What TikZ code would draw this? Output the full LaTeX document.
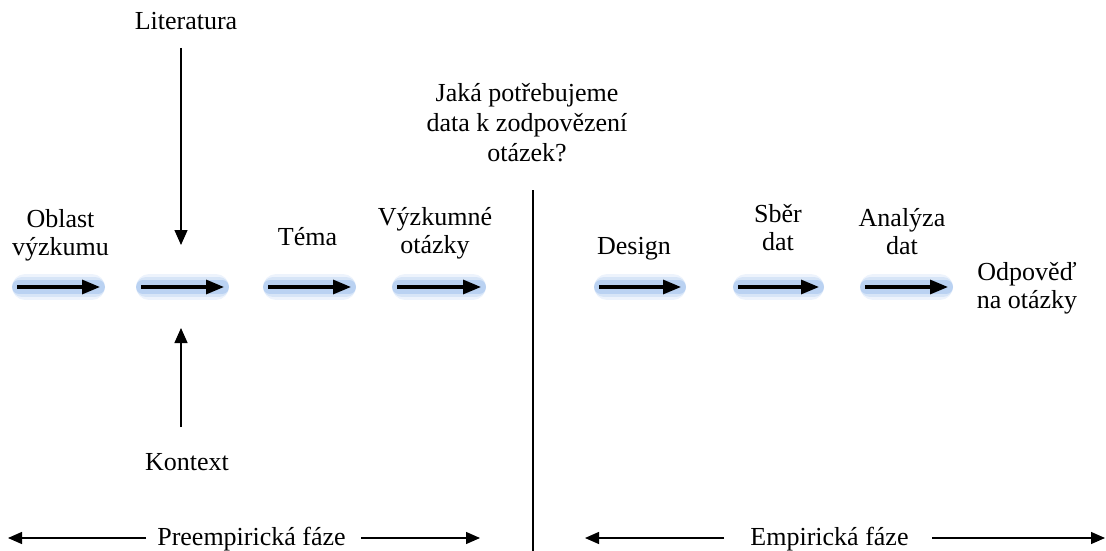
\documentclass[tikz,border=0pt]{standalone}
\usepackage{fontspec}
\setmainfont{Liberation Serif}
\usetikzlibrary{arrows.meta}
\definecolor{glowblue}{RGB}{110,160,228}
\begin{document}
\begin{tikzpicture}[x=1pt,y=-1pt,
  lbl/.style={align=center,inner sep=0pt,anchor=base,font=\fontsize{26}{28}\selectfont},
  qlbl/.style={align=center,inner sep=0pt,anchor=base,font=\fontsize{26}{30}\selectfont},
  flow/.style={line width=3.2pt,-{Triangle[length=18pt,width=14pt]}},
  thinarrow/.style={line width=1.3pt,-{Triangle[length=15pt,width=13pt]}},
  phase/.style={line width=1.3pt,-{Triangle[length=14pt,width=12pt]}},
  glowA/.style={line width=26pt,line cap=round,draw=glowblue,opacity=0.12,shorten <=8pt,shorten >=8pt},
  glowB/.style={line width=20pt,line cap=round,draw=glowblue,opacity=0.18,shorten <=5pt,shorten >=5pt},
  glowC/.style={line width=14pt,line cap=round,draw=glowblue,opacity=0.28,shorten <=2pt,shorten >=2pt},
]
\useasboundingbox (0,0) rectangle (1106,551);

% labels (base anchor = baseline of last line)
\node[lbl] (lit) at (186,30) {Literatura};
\node[lbl] (kon) at (187,470) {Kontext};
\node[lbl] (obl) at (60.5,255) {Oblast\\výzkumu};
\node[lbl] (tema) at (307.5,245) {Téma};
\node[lbl] (vyz) at (435,253) {Výzkumné\\otázky};
\node[qlbl] (q) at (527,161) {Jaká potřebujeme\\data k zodpovězení\\otázek?};
\node[lbl] (des) at (634,254) {Design};
\node[lbl] (sber) at (778,250) {Sběr\\dat};
\node[lbl] (ana) at (902,254) {Analýza\\dat};
\node[lbl] (odp) at (1027,308) {Odpověď\\na otázky};
\node[lbl] (pre) at (251.5,545) {Preempirická fáze};
\node[lbl] (emp) at (829.5,545) {Empirická fáze};

% flow arrow coordinates
\coordinate (a1s) at (17,287);  \coordinate (a1e) at (100,287);
\coordinate (a2s) at (141,287); \coordinate (a2e) at (224,287);
\coordinate (a3s) at (268,287); \coordinate (a3e) at (351,287);
\coordinate (a4s) at (397,287); \coordinate (a4e) at (481,287);
\coordinate (a5s) at (599,287); \coordinate (a5e) at (681,287);
\coordinate (a6s) at (738,287); \coordinate (a6e) at (819,287);
\coordinate (a7s) at (865,287); \coordinate (a7e) at (948,287);

\foreach \i in {1,...,7}{
  \draw[glowA] (a\i s) -- (a\i e);
  \draw[glowB] (a\i s) -- (a\i e);
  \draw[glowC] (a\i s) -- (a\i e);
  \draw[flow] (a\i s) -- (a\i e);
}

% literature / context arrows
\coordinate (litS) at (181,48);  \coordinate (litE) at (181,245);
\coordinate (konS) at (181,427); \coordinate (konE) at (181,328);
\draw[thinarrow] (litS) -- (litE);
\draw[thinarrow] (konS) -- (konE);

% divider
\coordinate (divT) at (533,190); \coordinate (divB) at (533,551);
\draw[line width=1.5pt] (divT) -- (divB);

% phase arrows
\coordinate (preL0) at (146,538); \coordinate (preL1) at (8,538);
\coordinate (preR0) at (361,538); \coordinate (preR1) at (480,538);
\coordinate (empL0) at (724,538); \coordinate (empL1) at (585,538);
\coordinate (empR0) at (932,538); \coordinate (empR1) at (1105,538);
\draw[phase] (preL0) -- (preL1);
\draw[phase] (preR0) -- (preR1);
\draw[phase] (empL0) -- (empL1);
\draw[phase] (empR0) -- (empR1);
\end{tikzpicture}
\end{document}
